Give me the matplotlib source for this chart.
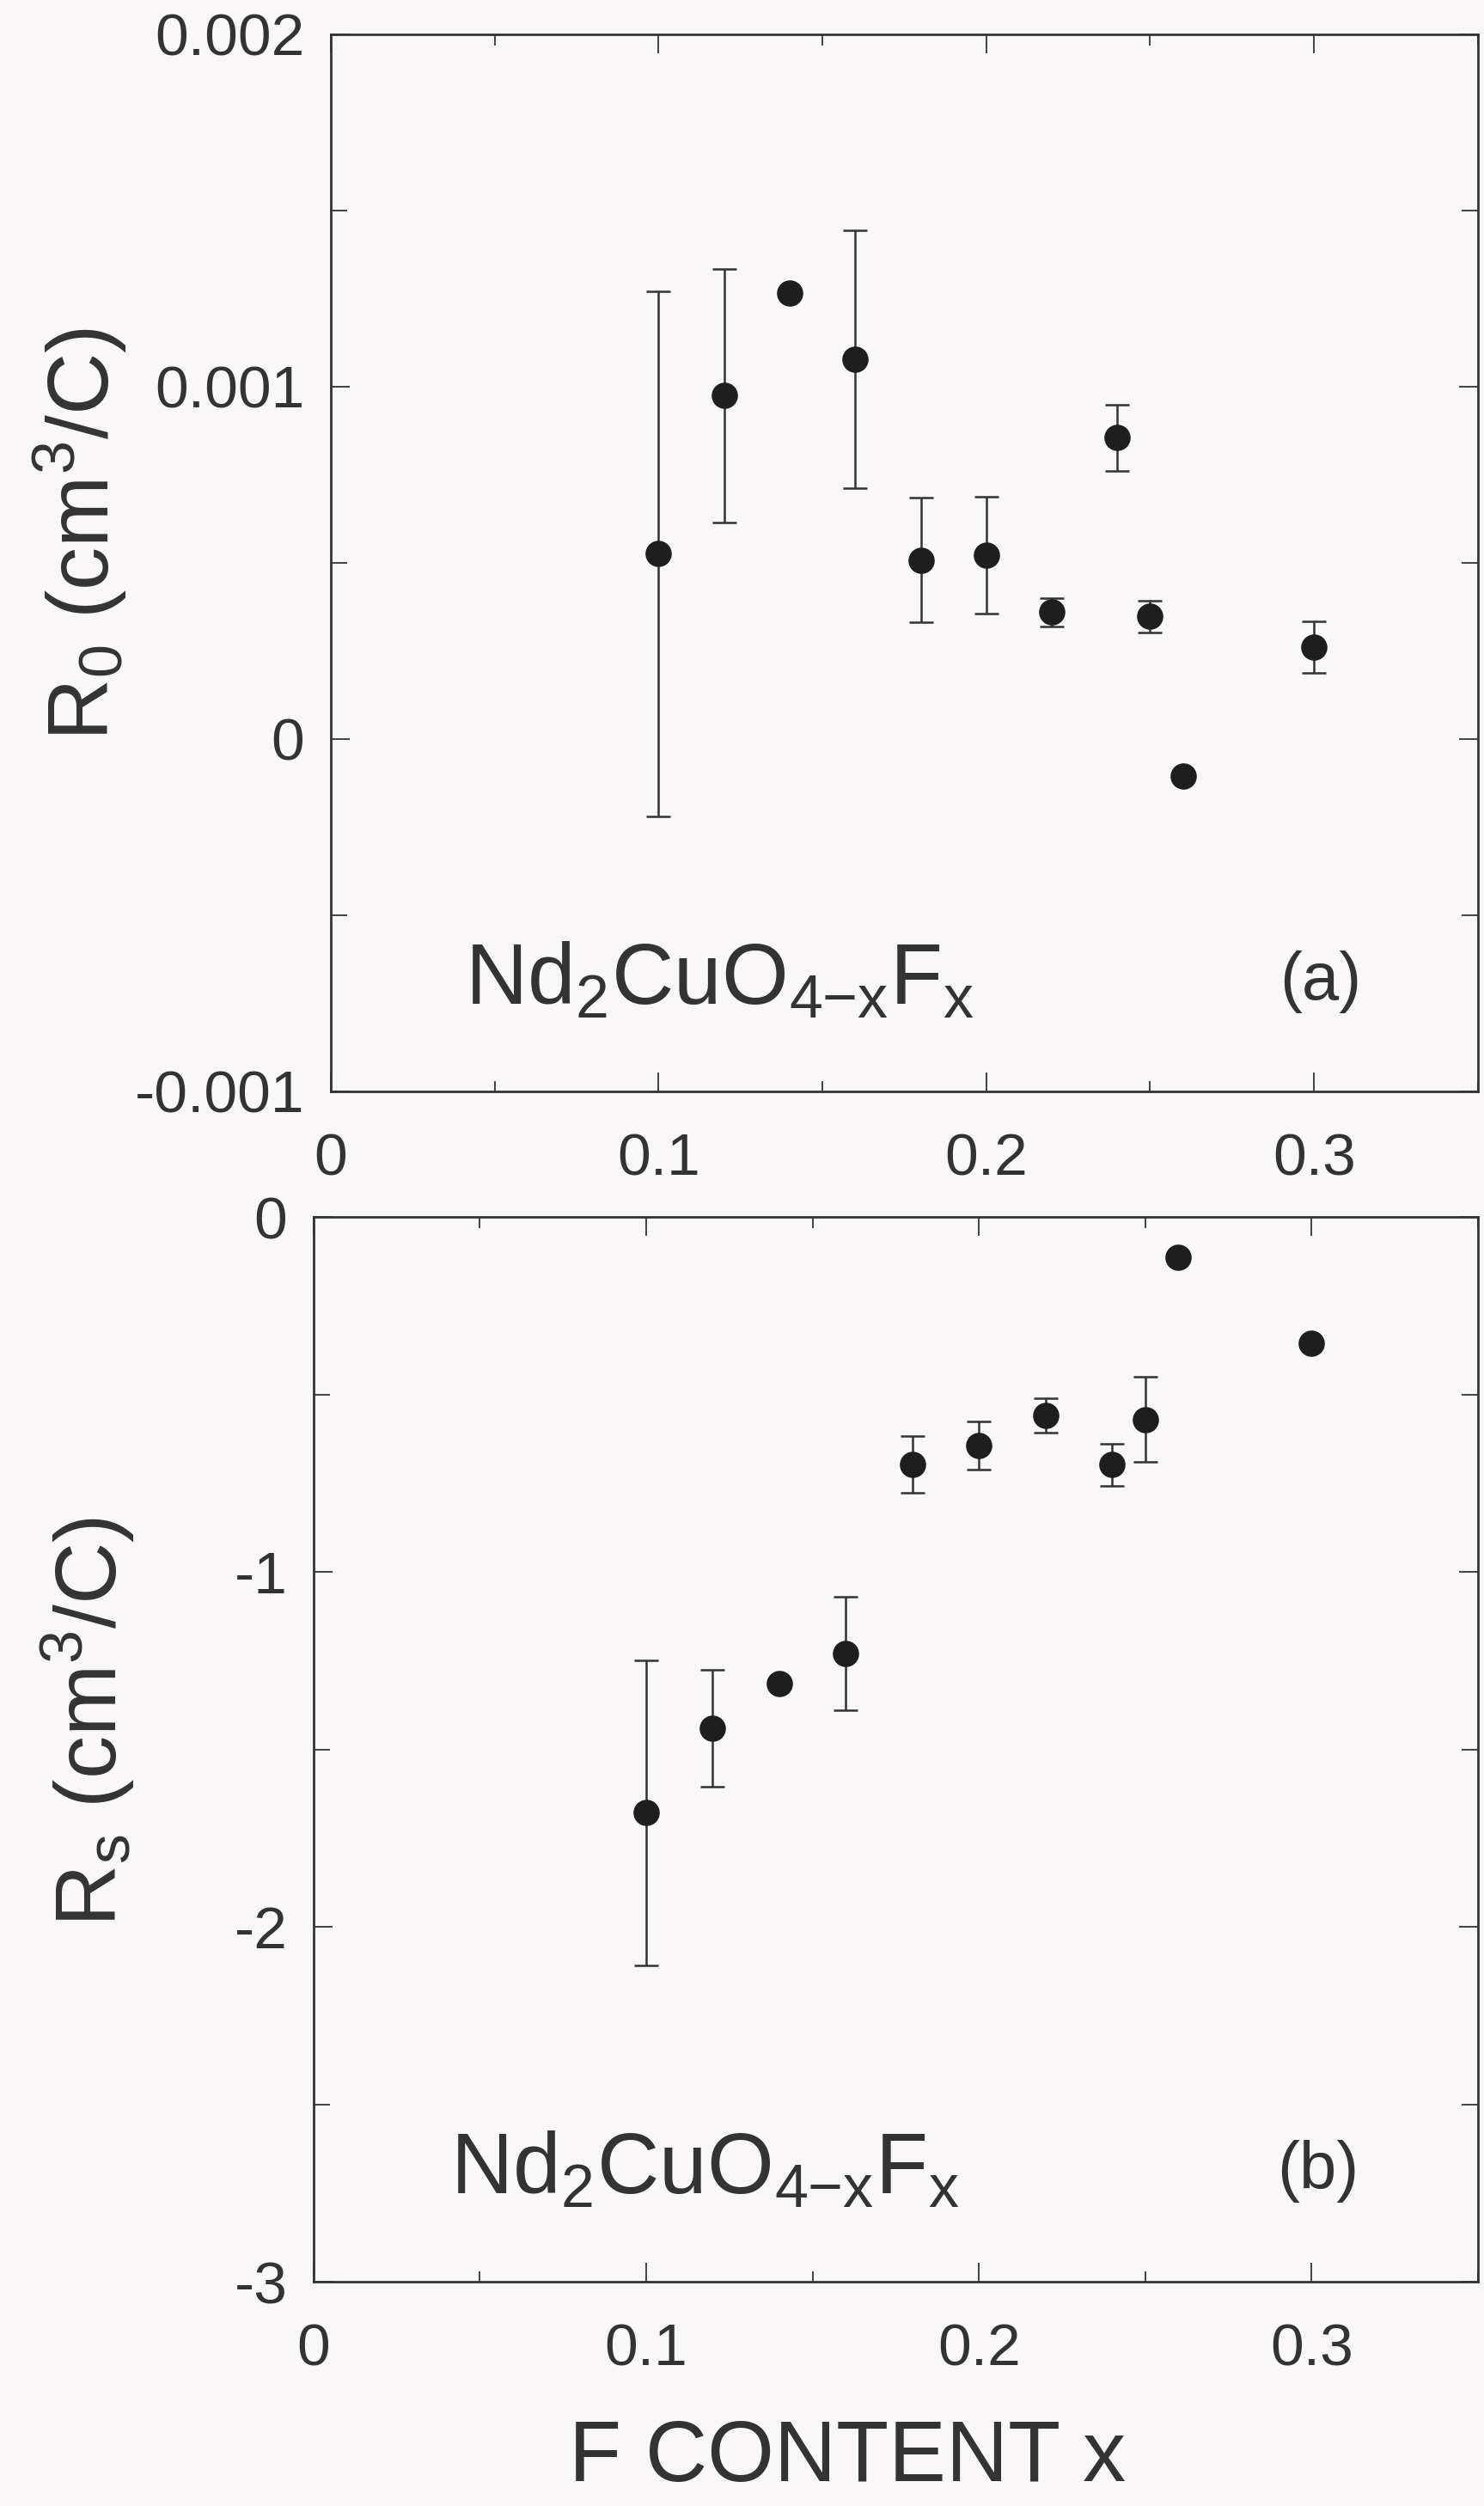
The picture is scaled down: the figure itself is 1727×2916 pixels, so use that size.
import matplotlib
matplotlib.use("Agg")
import matplotlib.pyplot as plt
from matplotlib.ticker import MultipleLocator, FixedFormatter, FixedLocator

# F content x (shared by both panels)
x_content = [0.10, 0.12, 0.14, 0.16, 0.18, 0.20, 0.22, 0.24, 0.25, 0.26, 0.30]

# panel (a): R0 in cm^3/C
r0_vals = [0.526e-3, 0.975e-3, 1.265e-3, 1.078e-3, 0.508e-3, 0.522e-3,
           0.360e-3, 0.855e-3, 0.348e-3, -0.104e-3, 0.260e-3]
r0_errs = [0.745e-3, 0.36e-3, 0.0, 0.366e-3, 0.176e-3, 0.165e-3,
           0.040e-3, 0.093e-3, 0.045e-3, 0.0, 0.073e-3]

# panel (b): Rs in cm^3/C
rs_vals = [-1.679, -1.44, -1.314, -1.231, -0.697, -0.645,
           -0.560, -0.698, -0.571, -0.114, -0.357]
rs_errs = [0.43, 0.165, 0.0, 0.16, 0.08, 0.068,
           0.048, 0.06, 0.12, 0.0, 0.01]

r0_ticks = [-0.001, 0, 0.001, 0.002]
r0_ticklabels = ["-0.001", "0", "0.001", "0.002"]
rs_ticks = [-3, -2, -1, 0]
rs_ticklabels = ["-3", "-2", "-1", "0"]
x_ticks = [0, 0.1, 0.2, 0.3]
x_ticklabels = ["0", "0.1", "0.2", "0.3"]

ink = "#333333"
paper = "#f9f7f8"

plt.rcParams["font.family"] = ["Liberation Sans", "DejaVu Sans"]
plt.rcParams["mathtext.fontset"] = "custom"
plt.rcParams["mathtext.rm"] = "Liberation Sans"
plt.rcParams["text.color"] = ink

fig = plt.figure(figsize=(17.27, 29.16), dpi=100, facecolor=paper)
ax_a = fig.add_axes([0.2229, 0.5645, 0.7730, 0.4218])
ax_b = fig.add_axes([0.2113, 0.0895, 0.7846, 0.4249])


def style_axes(ax, yticks, ylabels, yminor, ylim):
    ax.set_facecolor(paper)
    ax.set_xlim(0, 0.35)
    ax.set_ylim(*ylim)
    ax.xaxis.set_major_locator(FixedLocator(x_ticks))
    ax.xaxis.set_major_formatter(FixedFormatter(x_ticklabels))
    ax.xaxis.set_minor_locator(MultipleLocator(0.05))
    ax.yaxis.set_major_locator(FixedLocator(yticks))
    ax.yaxis.set_major_formatter(FixedFormatter(ylabels))
    ax.yaxis.set_minor_locator(MultipleLocator(yminor))
    for sp in ax.spines.values():
        sp.set_linewidth(2.0)
        sp.set_color(ink)
    ax.tick_params(which="both", direction="in", top=True, right=True,
                   color=ink, width=1.3)
    ax.tick_params(which="major", length=16)
    ax.tick_params(axis="y", which="minor", length=14)
    ax.tick_params(axis="x", which="minor", length=9)
    ax.tick_params(axis="y", which="major", labelsize=50, pad=22, labelcolor=ink)
    ax.tick_params(axis="x", which="major", labelsize=50, pad=34, labelcolor=ink)


style_axes(ax_a, r0_ticks, r0_ticklabels, 0.0005, (-0.001, 0.002))
style_axes(ax_b, rs_ticks, rs_ticklabels, 0.5, (-3, 0))

ax_a.errorbar(x_content, r0_vals, yerr=r0_errs, fmt="o", color="#1e1e1e",
              markersize=21, ecolor=ink, elinewidth=1.8, capsize=10,
              capthick=1.8, clip_on=False)
ax_b.errorbar(x_content, rs_vals, yerr=rs_errs, fmt="o", color="#1e1e1e",
              markersize=21, ecolor=ink, elinewidth=1.8, capsize=10,
              capthick=1.8, clip_on=False)

formula = r"Nd$_\mathregular{2}$CuO$_\mathregular{4{-}x}$F$_\mathregular{x}$"
ax_a.text(0.041, -0.00069, formula, fontsize=72, va="center", ha="left")
ax_a.text(0.302, -0.00069, "(a)", fontsize=56, va="center", ha="center")
ax_b.text(0.041, -2.69, formula, fontsize=72, va="center", ha="left")
ax_b.text(0.302, -2.69, "(b)", fontsize=56, va="center", ha="center")

fig.text(0.054, 0.787, r"R$_\mathregular{0}$ (cm$^\mathregular{3}$/C)",
         fontsize=72, rotation=90, ha="center", va="center")
fig.text(0.059, 0.313, r"R$_\mathregular{s}$ (cm$^\mathregular{3}$/C)",
         fontsize=72, rotation=90, ha="center", va="center")
fig.text(0.571, 0.019, "F CONTENT x", fontsize=72, ha="center", va="center")

fig.savefig("out.png", dpi=100, facecolor=paper)
